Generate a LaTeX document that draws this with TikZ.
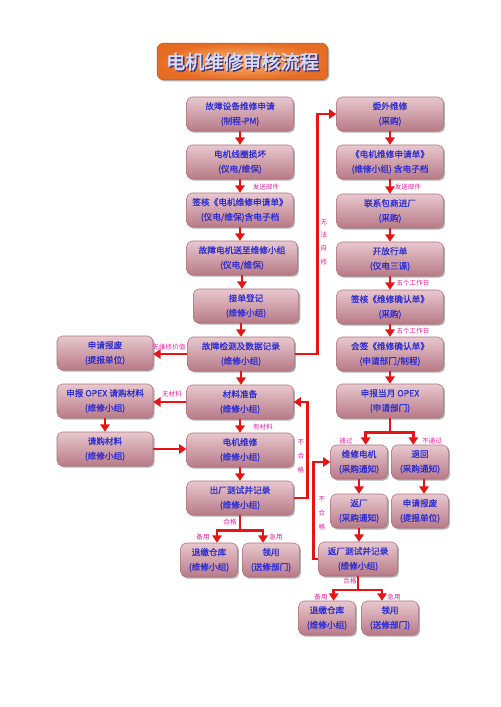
\documentclass[tikz,border=0pt]{standalone}
\usepackage{fontspec}
\setmainfont{Noto Sans CJK SC}
\newfontfamily\titlefont{Noto Sans CJK SC}[FakeBold=2.5]
\newfontfamily\boxfont{Noto Sans CJK SC}[FakeBold=0.8]
\usetikzlibrary{arrows.meta,shadows}

\definecolor{flowred}{RGB}{232,20,20}
\definecolor{flowtext}{RGB}{45,45,210}
\definecolor{flownote}{RGB}{228,30,160}
\definecolor{boxtop}{RGB}{232,200,206}
\definecolor{boxbot}{RGB}{184,122,135}
\definecolor{boxline}{RGB}{170,112,125}
\definecolor{titlein}{RGB}{252,188,120}
\definecolor{titleout}{RGB}{230,108,36}
\definecolor{titleline}{RGB}{210,92,28}
\definecolor{titletext}{RGB}{206,222,252}
\definecolor{titleshade}{RGB}{70,45,120}

\tikzset{every picture/.style={line width=0.75pt}}
\tikzset{
  stepbox/.style={rounded corners=4pt, draw=boxline, line width=0.4pt,
    top color=boxtop, bottom color=boxbot,
    drop shadow={shadow xshift=1.2pt, shadow yshift=-1.2pt, opacity=0.3, fill=black},
    minimum width=80pt, minimum height=25.5pt, inner sep=0pt, align=center,
    text=flowtext, font=\boxfont\fontsize{6.5}{11}\selectfont},
  smallbox/.style={stepbox, minimum width=42.5pt},
  sidebox/.style={stepbox, minimum width=72pt},
  titlebox/.style={rounded corners=5pt, draw=titleline, line width=0.6pt,
    inner color=titlein, outer color=titleout,
    drop shadow={shadow xshift=1.2pt, shadow yshift=-1.2pt, opacity=0.3, fill=black},
    minimum width=128pt, minimum height=27.5pt},
  titletxt/.style={font=\titlefont\fontsize{14.3}{16}\selectfont, inner sep=0pt},
  flow/.style={draw=flowred, line width=1.9pt, -{Triangle[length=5.5pt,width=7pt]}},
  flowline/.style={draw=flowred, line width=1.9pt},
  note/.style={text=flownote, font=\fontsize{4.9}{5}\selectfont, inner sep=0.5pt},
  vnote/.style={note, align=center},
}

\begin{document}
\begin{tikzpicture}[x=0.75pt,y=0.75pt,yscale=-1,xscale=1]
    \useasboundingbox (0,0) rectangle (500,707);

    %Shape: Title
    \node[titlebox] (title) at (242.5,61.5) {};
    \node[titletxt, text=titleshade] (titleshadow) at (243.8,62.8) {电机维修审核流程};
    \node[titletxt, text=titletext] (titlename) at (242.5,61.5) {电机维修审核流程};

    %Shape: Rounded Rectangle -- main column
    \node[stepbox] (apply) at (240,114) {故障设备维修申请\\(制程-PM)};
    \node[stepbox] (coil) at (240,162) {电机线圈损坏\\(仪电/维保)};
    \node[stepbox] (signapp) at (240,210) {签核《电机维修申请单》\\(仪电/维保)含电子档};
    \node[stepbox, minimum width=83pt] (send) at (242,258) {故障电机送至维修小组\\(仪电/维保)};
    \node[stepbox, minimum width=79pt] (accept) at (246,306) {接单登记\\(维修小组)};
    \node[stepbox] (detect) at (241,354) {故障检测及数据记录\\(维修小组)};
    \node[stepbox] (material) at (240,402) {材料准备\\(维修小组)};
    \node[stepbox] (repair) at (240,450) {电机维修\\(维修小组)};
    \node[stepbox] (test) at (240,498) {出厂测试并记录\\(维修小组)};
    \node[smallbox] (store) at (209,560) {退缴仓库\\(维修小组)};
    \node[smallbox] (use) at (271,560) {领用\\(送修部门)};

    %Shape: Rounded Rectangle -- outsourcing column
    \node[stepbox] (outsrc) at (390,114) {委外维修\\(采购)};
    \node[stepbox] (form) at (390,162) {《电机维修申请单》\\(维修小组) 含电子档};
    \node[stepbox] (vendor) at (390,211) {联系包商进厂\\(采购)};
    \node[stepbox] (pass) at (390,259) {开放行单\\(仪电三课)};
    \node[stepbox] (signconf) at (390,307) {签核《维修确认单》\\(采购)};
    \node[stepbox] (cosign) at (390,354) {会签《维修确认单》\\(申请部门/制程)};
    \node[stepbox] (opex) at (390,401) {申报当月 OPEX\\(申请部门)};
    \node[smallbox] (vrepair) at (359,462) {维修电机\\(采购通知)};
    \node[smallbox] (reject) at (420,462) {退回\\(采购通知)};
    \node[smallbox] (back) at (359,511) {返厂\\(采购通知)};
    \node[smallbox] (scrapr) at (420,511) {申请报废\\(提报单位)};
    \node[stepbox, minimum width=59pt] (retest) at (358,559) {返厂测试并记录\\(维修小组)};
    \node[smallbox] (storer) at (327,618) {退缴仓库\\(维修小组)};
    \node[smallbox] (user) at (390,618) {领用\\(送修部门)};

    %Shape: Rounded Rectangle -- left column
    \node[sidebox] (scrap) at (105,353) {申请报废\\(提报单位)};
    \node[sidebox] (opexbuy) at (105,401) {申报 OPEX 请购材料\\(维修小组)};
    \node[sidebox] (buy) at (105,449) {请购材料\\(维修小组)};

    %Straight Lines -- main column
    \draw[flow] (apply) -- (coil);
    \draw[flow] (coil) -- (signapp);
    \draw[flow] (signapp.south) -- (signapp.south |- send.north);
    \draw[flow] (send.south) -- (send.south |- accept.north);
    \draw[flow] (detect.north |- accept.south) -- (detect.north);
    \draw[flow] (detect.south) -- (detect.south |- material.north);
    \draw[flow] (material) -- (repair);
    \draw[flow] (repair) -- (test);
    \draw[flowline] (test.south) -- ++(0,15) coordinate (testjoin);
    \draw[flow] (testjoin) -| ([xshift=6pt]store.north);
    \draw[flow] (testjoin) -| ([xshift=-6pt]use.north);

    %Straight Lines -- outsourcing column
    \draw[flow] (outsrc) -- (form);
    \draw[flow] (form) -- (vendor);
    \draw[flow] (vendor) -- (pass);
    \draw[flow] (pass) -- (signconf);
    \draw[flow] (signconf) -- (cosign);
    \draw[flow] (cosign) -- (opex);
    \draw[flowline] (opex.south) -- ++(0,14) coordinate (opexjoin);
    \draw[flow] (opexjoin) -| ([xshift=5pt]vrepair.north);
    \draw[flow] (opexjoin) -| ([xshift=-5pt]reject.north);
    \draw[flow] (vrepair) -- (back);
    \draw[flow] ([xshift=3pt]reject.south) -- ([xshift=3pt]scrapr.north);
    \draw[flow] (back.south) -- (back.south |- retest.north);
    \draw[flowline] (retest.south) -- ++(0,13.5) coordinate (retestjoin);
    \draw[flow] (retestjoin) -| ([xshift=5pt]storer.north);
    \draw[flow] (retestjoin) -| ([xshift=-6pt]user.north);

    %Straight Lines -- loops
    \draw[flow] (detect.east) -- ++(23,0) |- (outsrc.west);
    \draw[flow] (test.east) -- ++(14,0) |- (material.east);
    \draw[flow] (retest.west) -- ++(-5,0) |- (vrepair.west);

    %Straight Lines -- left column
    \draw[flow] (detect.west) -- (detect.west -| scrap.east);
    \draw[flow] (material.west) -- (material.west -| opexbuy.east);
    \draw[flow] (opexbuy) -- (buy);
    \draw[flow] (buy.east) -- (buy.east -| repair.west);

    % Text Node
    \node[note] (mailA) at (266,187) {发送邮件};
    \node[note] (mailB) at (408,187) {发送邮件};
    \node[vnote, font=\fontsize{4.9}{10}\selectfont] (noself) at (324,242) {无\\法\\自\\修};
    \node[note] (fiveA) at (413,283) {五个工作日};
    \node[note] (fiveB) at (413,331) {五个工作日};
    \node[note] (novalue) at (169,347) {无维修价值};
    \node[note] (nomat) at (172,394) {无材料};
    \node[note] (hasmat) at (263,427) {有材料};
    \node[vnote, font=\fontsize{4.9}{10.5}\selectfont] (faila) at (301,456) {不\\合\\格};
    \node[vnote, font=\fontsize{4.9}{10.5}\selectfont] (failb) at (322,513) {不\\合\\格};
    \node[note] (oka) at (230,522) {合格};
    \node[note] (sparea) at (203,537) {备用};
    \node[note] (urgenta) at (276,537) {急用};
    \node[note] (passed) at (346,441) {通过};
    \node[note] (nopass) at (432,441) {不通过};
    \node[note] (okb) at (350,581) {合格};
    \node[note] (spareb) at (321,597) {备用};
    \node[note] (urgentb) at (394,597) {急用};

\end{tikzpicture}
\end{document}
